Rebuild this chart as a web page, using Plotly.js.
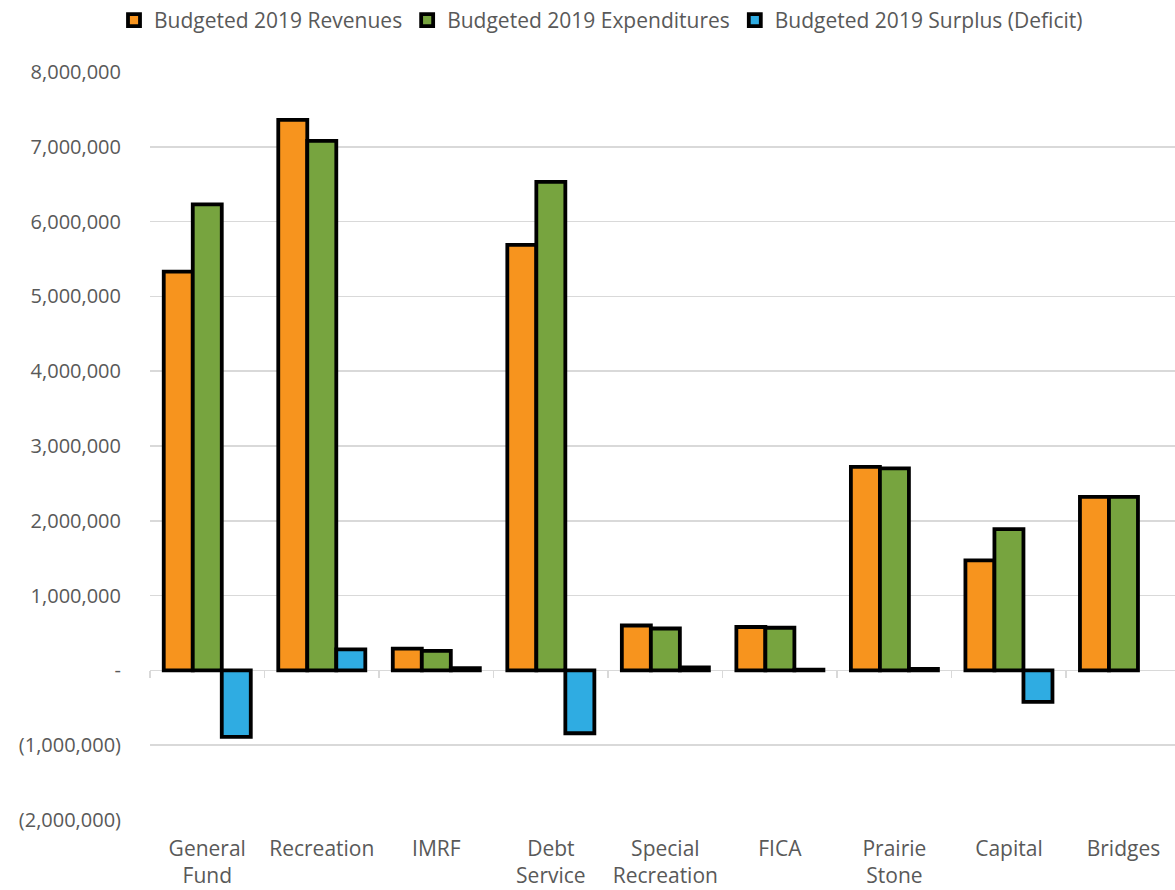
<!DOCTYPE html>
<html>
<head>
<meta charset="utf-8">
<script src="https://cdn.plot.ly/plotly-3.0.1.min.js"></script>
<style>html,body{margin:0;padding:0;background:#fff;}#chart{width:1175px;height:890px;}</style>
</head>
<body>
<div id="chart"></div>
<script>
const categories = ["General<br>Fund", "Recreation", "IMRF", "Debt<br>Service", "Special<br>Recreation", "FICA", "Prairie<br>Stone", "Capital", "Bridges"];
const revenues     = [5330000, 7360000, 290000, 5690000, 600000, 580000, 2720000, 1470000, 2320000];
const expenditures = [6230000, 7080000, 260000, 6530000, 560000, 570000, 2700000, 1890000, 2320000];
const surplus      = [-890000, 280000, 30000, -840000, 40000, 10000, 20000, -420000, null];
const seriesNames = ["Budgeted 2019 Revenues", "Budgeted 2019 Expenditures", "Budgeted 2019 Surplus (Deficit)"];
const seriesColors = ["#F7941E", "#77A43F", "#2FACE2"];
const yTickVals = [-2000000, -1000000, 0, 1000000, 2000000, 3000000, 4000000, 5000000, 6000000, 7000000, 8000000];
const yTickText = ["(2,000,000)", "(1,000,000)", "-", "1,000,000", "2,000,000", "3,000,000", "4,000,000", "5,000,000", "6,000,000", "7,000,000", "8,000,000"];

const idx = categories.map((c, i) => i);
const boundaries = [];
for (let i = 0; i <= categories.length; i++) boundaries.push(i - 0.5);

const seriesValues = [revenues, expenditures, surplus];
const traces = seriesValues.map((vals, k) => ({
  type: "bar",
  name: seriesNames[k],
  x: idx,
  y: vals,
  marker: { color: seriesColors[k], line: { color: "#000000", width: 3.8 } },
  hoverinfo: "skip"
}));
// invisible helper trace so the zero-line tick axis is drawn
traces.push({
  type: "scatter", mode: "markers", x: boundaries, y: boundaries.map(() => 0),
  xaxis: "x2", marker: { opacity: 0, size: 1 }, showlegend: false, hoverinfo: "skip"
});

const font = "'Open Sans', 'DejaVu Sans', sans-serif";
const layout = {
  width: 1175, height: 890,
  margin: { l: 150, r: 0, t: 72, b: 70 },
  paper_bgcolor: "#ffffff", plot_bgcolor: "#ffffff",
  barmode: "group", bargap: 0.24, bargroupgap: 0,
  font: { family: font, size: 20, color: "#595959" },
  showlegend: true,
  legend: {
    orientation: "h", x: 0.44, xanchor: "center", yref: "container", y: 1.0, yanchor: "top",
    font: { family: font, size: 21, color: "#595959" }, traceorder: "normal"
  },
  xaxis: {
    type: "linear", range: [-0.5, 8.45],
    tickmode: "array", tickvals: idx, ticktext: categories,
    showgrid: false, zeroline: false, showline: false, ticks: "",
    ticklabelstandoff: 14,
    tickfont: { family: font, size: 21, color: "#595959" }
  },
  xaxis2: {
    type: "linear", range: [-0.5, 8.45], overlaying: "x", anchor: "free", position: 0.2,
    tickmode: "array", tickvals: boundaries, showticklabels: false,
    ticks: "outside", ticklen: 7, tickwidth: 1.5, tickcolor: "#d9d9d9",
    showgrid: false, zeroline: false, showline: false
  },
  yaxis: {
    range: [-2000000, 8000000],
    tickmode: "array", tickvals: yTickVals, ticktext: yTickText,
    showgrid: true, gridcolor: "#d9d9d9", gridwidth: 1.5,
    zeroline: true, zerolinecolor: "#d9d9d9", zerolinewidth: 1.5,
    showline: false, ticks: "", ticklabelstandoff: 28,
    tickfont: { family: font, size: 20, color: "#595959" }
  }
};

Plotly.newPlot("chart", traces, layout, { displayModeBar: false, staticPlot: true });
</script>
</body>
</html>
